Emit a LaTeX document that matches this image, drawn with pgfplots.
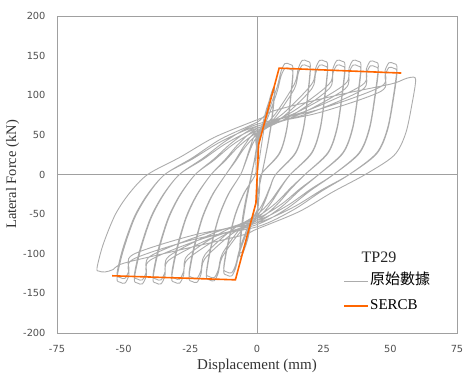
\documentclass[border=0pt]{standalone}
\usepackage{fontspec}
\setmainfont{Liberation Serif}
\newfontfamily\tickfont{DejaVu Sans}
\newfontfamily\cjk{Noto Sans CJK TC}
\usepackage{pgfplots}
\pgfplotsset{compat=1.18}
\definecolor{grayline}{RGB}{172,172,172}
\definecolor{framegray}{RGB}{160,160,160}
\definecolor{sercb}{RGB}{255,102,0}
\definecolor{ticktext}{RGB}{80,80,80}
\begin{document}
\begin{tikzpicture}
\useasboundingbox (-57pt,-44pt) rectangle (411pt,333pt);
\begin{axis}[
  scale only axis, width=400pt, height=317pt,
  xmin=-75, xmax=75, ymin=-200, ymax=200,
  xtick={-75,-50,...,75}, ytick={-200,-150,...,200},
  major tick length=0pt,
  axis line style={draw=framegray, line width=0.8pt},
  tick label style={font=\fontsize{9.8}{11}\tickfont, text=ticktext},
  /pgf/number format/assume math mode=true,
  xticklabel style={yshift=-9pt},
  yticklabel style={xshift=-8pt},
  xlabel={Displacement (mm)}, ylabel={Lateral Force (kN)},
  xlabel style={font=\fontsize{15}{18}\selectfont, text=black!80, at={(axis description cs:0.5,-0.104)}, anchor=center},
  ylabel style={font=\fontsize{14.5}{18}\selectfont, text=black!80, at={(axis description cs:-0.111,0.5)}, anchor=center},
  legend style={at={(rel axis cs:0.716,0.19)}, anchor=north west, draw=none, fill=none,
    font=\fontsize{15}{18}\selectfont, row sep=9pt, inner sep=0pt,
    nodes={inner sep=1pt, text height=11pt, text depth=3pt},
    /tikz/every even column/.append style={column sep=1pt}},
  legend image code/.code={\draw[#1] (0pt,0pt) -- (24pt,0pt);},
  legend cell align=left,
]
\draw[framegray, line width=0.8pt] (axis cs:0,-200) -- (axis cs:0,200);
\draw[framegray, line width=0.8pt] (axis cs:-75,0) -- (axis cs:75,0);

\addplot[grayline, line width=0.9pt, smooth, tension=0.5] coordinates {
(0,0) (1,22) (2.5,55) (4,85) (5.5,104) (6.5,110)
(6.2,92) (5.3,65) (4,38) (2.5,12) (1,-12) (-0.5,-36) (-2,-60) (-3.5,-82) (-5,-97) (-6,-104) (-6.5,-101)
(-6.2,-85) (-5.3,-60) (-4,-34) (-2.5,-9) (-1,16) (0.5,40) (2,62) (3.5,82) (5,97) (6,104) (6.5,101)
(6.2,86) (5.3,61) (4,36) (2.5,11) (1,-13) (-0.5,-37) (-2,-60) (-3.5,-80) (-5,-94) (-6,-99) (-6.5,-96)
(-6.2,-78) (-5.3,-52) (-4,-28) (-2.5,-6) (-1,18) (0,38) (1.5,58) (3.75,75) (7.5,110) (9,130) (10.5,140) (12.3,139) (13.5,134)
(12.66,100.5) (11.1,57.6) (8.34,26.8) (1.5,0) (1.05,-16.1) (0.59,-34.3) (0,-50.4) (-3.25,-69.2) (-6.5,-98) (-8,-118) (-9.5,-128) (-11.3,-127) (-12.5,-122)
(-11.07,-91.5) (-8.22,-52.5) (-4.88,-24.4) (-0.6,0) (-0.42,14.4) (-0.23,30.6) (0,45) (3.75,69.5) (7.5,104) (9,124) (10.5,134) (12.3,133) (13.5,128)
(12.66,96) (11.1,55) (8.34,25.6) (1.5,0) (1.05,-14.5) (0.59,-30.9) (0,-45.4) (-3.25,-64.7) (-6.5,-94) (-8,-114) (-9.5,-124) (-11.3,-123) (-12.5,-118)
(-11.07,-88.5) (-8.22,-50.7) (-4.88,-23.6) (-0.6,0) (-0.42,16) (-0.23,34) (0,50) (7,77) (14,114) (15.5,134) (17,144) (18.8,143) (20,138)
(19.09,103.5) (17.4,59.3) (14.41,27.6) (7,0) (4.9,-17) (2.73,-36) (0,-53) (-6.5,-73.5) (-13,-104) (-14.5,-124) (-16,-134) (-17.8,-133) (-19,-128)
(-17.46,-96) (-14.37,-55) (-10.78,-25.6) (-6.15,0) (-4.3,15.2) (-2.4,32.4) (0,47.6) (7,72.8) (14,108) (15.5,128) (17,138) (18.8,137) (20,132)
(19.09,99) (17.4,56.8) (14.41,26.4) (7,0) (4.9,-15.4) (2.73,-32.6) (0,-48) (-6.5,-69) (-13,-100) (-14.5,-120) (-16,-130) (-17.8,-129) (-19,-124)
(-17.46,-93) (-14.37,-53.3) (-10.78,-24.8) (-6.15,0) (-4.3,16.8) (-2.4,35.8) (0,52.6) (10.25,78.3) (20.5,114) (22,134) (23.5,144) (25.3,143) (26.5,138)
(25.52,103.5) (23.7,59.3) (20.48,27.6) (12.5,0) (8.75,-17.8) (4.88,-37.8) (0,-55.6) (-9.75,-75.8) (-19.5,-106) (-21,-126) (-22.5,-136) (-24.3,-135) (-25.5,-130)
(-23.84,-97.5) (-20.53,-55.9) (-16.67,-26) (-11.7,0) (-8.19,16.1) (-4.56,34.1) (0,50.2) (10.25,74.1) (20.5,108) (22,128) (23.5,138) (25.3,137) (26.5,132)
(25.52,99) (23.7,56.8) (20.48,26.4) (12.5,0) (8.75,-16.2) (4.88,-34.4) (0,-50.6) (-9.75,-70.8) (-19.5,-101) (-21,-121) (-22.5,-131) (-24.3,-130) (-25.5,-125)
(-23.84,-93.8) (-20.53,-53.8) (-16.67,-25) (-11.7,0) (-8.19,17.7) (-4.56,37.5) (0,55.2) (13.5,79.6) (27,114) (28.5,134) (30,144) (31.8,143) (33,138)
(31.95,103.5) (30,59.3) (26.55,27.6) (18,0) (12.6,-18.6) (7.02,-39.6) (0,-58.2) (-13,-77.6) (-26,-107) (-27.5,-127) (-29,-137) (-30.8,-136) (-32,-131)
(-30.22,-98.3) (-26.67,-56.3) (-22.53,-26.2) (-17.2,0) (-12.04,16.9) (-6.71,35.9) (0,52.8) (13.5,75.4) (27,108) (28.5,128) (30,138) (31.8,137) (33,132)
(31.95,99) (30,56.8) (26.55,26.4) (18,0) (12.6,-17) (7.02,-36.2) (0,-53.2) (-13,-72.6) (-26,-102) (-27.5,-122) (-29,-132) (-30.8,-131) (-32,-126)
(-30.22,-94.5) (-26.67,-54.2) (-22.53,-25.2) (-17.2,0) (-12.04,18.5) (-6.71,39.3) (0,57.8) (16.5,80.9) (33,114) (34.5,134) (36,144) (37.8,143) (39,138)
(37.89,103.5) (35.83,59.3) (32.18,27.6) (23.15,0) (16.2,-19.4) (9.03,-41.2) (0,-60.6) (-16.5,-79.3) (-33,-108) (-34.5,-128) (-36,-138) (-37.8,-137) (-39,-132)
(-37.1,-99) (-33.29,-56.8) (-28.86,-26.4) (-23.15,0) (-16.2,17.8) (-9.03,37.8) (0,55.6) (16.5,76.8) (33,108) (34.5,128) (36,138) (37.8,137) (39,132)
(37.89,99) (35.83,56.8) (32.18,26.4) (23.15,0) (16.2,-17.8) (9.03,-37.8) (0,-55.6) (-16.5,-74.3) (-33,-103) (-34.5,-123) (-36,-133) (-37.8,-132) (-39,-127)
(-37.1,-95.3) (-33.29,-54.6) (-28.86,-25.4) (-23.15,0) (-16.2,19.4) (-9.03,41.2) (0,60.6) (19.75,81.8) (39.5,113) (41,133) (42.5,143) (44.3,142) (45.5,137)
(44.32,102.8) (42.14,58.9) (38.28,27.4) (28.7,0) (20.1,-20.2) (11.19,-43) (0,-63.2) (-20,-80.6) (-40,-108) (-41.5,-128) (-43,-138) (-44.8,-137) (-46,-132)
(-43.97,-99) (-39.92,-56.8) (-35.18,-26.4) (-29.1,0) (-20.37,18.7) (-11.35,39.7) (0,58.4) (19.75,77.7) (39.5,107) (41,127) (42.5,137) (44.3,136) (45.5,131)
(44.32,98.3) (42.14,56.3) (38.28,26.2) (28.7,0) (20.1,-18.6) (11.19,-39.6) (0,-58.2) (-20,-75.6) (-40,-103) (-41.5,-123) (-43,-133) (-44.8,-132) (-46,-127)
(-43.97,-95.3) (-39.92,-54.6) (-35.18,-25.4) (-29.1,0) (-20.37,20.3) (-11.35,43.1) (0,63.4) (23.25,82.2) (46.5,111) (48,131) (49.5,141) (51.3,140) (52.5,135)
(51.25,101.3) (48.92,58.1) (44.8,27) (34.6,0) (24.22,-21.1) (13.49,-44.9) (0,-66) (-23.25,-81.5) (-46.5,-107) (-48,-127) (-49.5,-137) (-51.3,-136) (-52.5,-131)
(-50.35,-98.3) (-46.06,-56.3) (-41.04,-26.2) (-34.6,0) (-24.22,19.5) (-13.49,41.5) (0,61) (23.25,78) (46.5,105) (48,125) (49.5,135) (51.3,134) (52.5,129)
(51.25,96.8) (48.92,55.5) (44.8,25.8) (34.6,0) (24.22,-19.5) (13.49,-41.5) (0,-61) (-23.25,-76) (-46.5,-101) (-48,-121) (-49.5,-131) (-51.3,-130) (-52.5,-125)
(-50.35,-93.8) (-46.06,-53.8) (-41.04,-25) (-34.6,0) (-24.22,21.1) (-13.49,44.9) (0,66) (6,80) (30,100) (50,114) (55,120) (57.5,122.5) (59.5,120)
(58.18,90) (55.72,51.6) (51.37,24) (40.6,0) (28.42,-22) (15.83,-46.8) (0,-68.8) (-6,-77) (-30,-96) (-50,-112) (-54,-120) (-57,-123) (-59.2,-122) (-60,-118)
(-57.72,-88.5) (-53.16,-50.7) (-47.84,-23.6) (-41,0) (-28.7,22.1) (-16,46.9) (0,69) (4,74)
};
\addlegendentry{{\cjk 原始數據}}

\addplot[sercb, line width=1.6pt] coordinates {
(-54.3,-127.8) (-8.1,-132.9) (-0.4,-36) (0.6,37.5) (8.3,134.2) (54.1,128)
};
\addlegendentry{SERCB}

\node[font=\fontsize{16}{19}\selectfont, text=black!85] at (rel axis cs:0.805,0.238) {TP29};
\end{axis}
\end{tikzpicture}
\end{document}
